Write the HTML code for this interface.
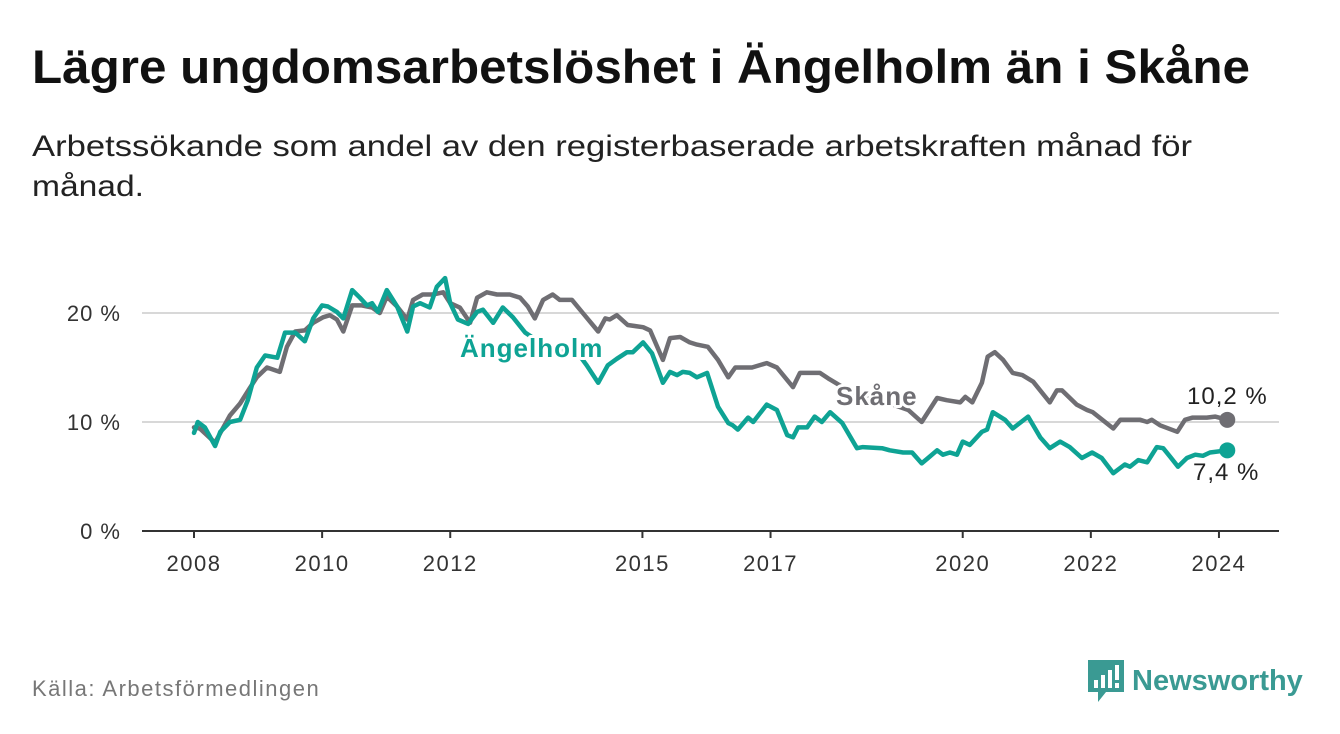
<!DOCTYPE html>
<html><head><meta charset="utf-8"><style>
body{margin:0;width:1340px;height:734px;background:#fff;font-family:"Liberation Sans",sans-serif;overflow:hidden}
.src{position:absolute;left:32px;top:676px;font-size:22px;letter-spacing:1.5px;color:#777}
.logo{position:absolute;left:1088px;top:660px;display:flex;align-items:center}
.logo span{font-size:29px;font-weight:bold;color:#3a9a93;margin-left:8px}
</style></head><body>
<svg id="chart" width="1340" height="734" style="position:absolute;left:0;top:0">
<text x="32" y="83" font-size="47" font-weight="bold" fill="#111" textLength="1218" lengthAdjust="spacingAndGlyphs">Lägre ungdomsarbetslöshet i Ängelholm än i Skåne</text>
<text x="32" y="156" font-size="30" fill="#222" textLength="1160" lengthAdjust="spacingAndGlyphs">Arbetssökande som andel av den registerbaserade arbetskraften månad för</text>
<text x="32" y="196" font-size="30" fill="#222" textLength="112" lengthAdjust="spacingAndGlyphs">månad.</text>
</svg>
<div class="src">Källa: Arbetsförmedlingen</div>
<div class="logo">
<svg width="36" height="42" viewBox="0 0 36 42"><path d="M0 0H36V32H18L10 42V32H0Z" fill="#3a9a93"/><rect x="6" y="20" width="4" height="8" fill="#fff"/><rect x="13" y="15" width="4" height="13" fill="#fff"/><rect x="20" y="10" width="4" height="18" fill="#fff"/><rect x="27" y="5" width="4" height="15" fill="#fff"/><rect x="27" y="23" width="4" height="5" fill="#fff"/></svg>
<span>Newsworthy</span></div>
<script>
const yTicks=[0,10,20];
const xTicks=[2008,2010,2012,2015,2017,2020,2022,2024];
const angYears=[2008.0,2008.06,2008.17,2008.33,2008.41,2008.56,2008.72,2008.84,2008.98,2009.11,2009.30,2009.42,2009.58,2009.73,2009.86,2010.00,2010.09,2010.23,2010.33,2010.47,2010.59,2010.70,2010.78,2010.87,2011.01,2011.17,2011.33,2011.42,2011.53,2011.68,2011.79,2011.92,2012.00,2012.12,2012.28,2012.42,2012.51,2012.67,2012.82,2012.98,2013.17,2013.48,2013.79,2014.03,2014.13,2014.31,2014.46,2014.60,2014.76,2014.85,2015.01,2015.15,2015.32,2015.43,2015.54,2015.63,2015.74,2015.85,2016.01,2016.18,2016.34,2016.41,2016.49,2016.65,2016.73,2016.94,2017.10,2017.26,2017.35,2017.43,2017.57,2017.69,2017.80,2017.93,2018.12,2018.35,2018.44,2018.74,2018.86,2019.07,2019.21,2019.36,2019.46,2019.60,2019.69,2019.80,2019.91,2020.00,2020.11,2020.30,2020.38,2020.47,2020.66,2020.78,2021.02,2021.21,2021.36,2021.52,2021.67,2021.86,2022.02,2022.17,2022.35,2022.53,2022.61,2022.74,2022.88,2023.03,2023.13,2023.24,2023.36,2023.50,2023.63,2023.75,2023.86,2024.13];
const angValues=[9.0,10.0,9.5,7.8,9.1,10.0,10.2,12,15,16.1,15.9,18.2,18.2,17.4,19.5,20.7,20.6,20.1,19.5,22.1,21.4,20.7,20.9,20.1,22.1,20.6,18.3,20.6,20.9,20.5,22.4,23.2,20.9,19.4,19.0,20.1,20.3,19.1,20.5,19.6,18.2,17.0,16.5,16.0,15.2,13.6,15.2,15.8,16.4,16.4,17.3,16.3,13.6,14.6,14.3,14.6,14.5,14.1,14.5,11.4,9.9,9.7,9.3,10.4,10.0,11.6,11.1,8.8,8.6,9.5,9.5,10.5,10.0,10.9,9.9,7.6,7.7,7.6,7.4,7.2,7.2,6.2,6.7,7.4,7.0,7.2,7.0,8.2,7.9,9.1,9.3,10.9,10.2,9.4,10.5,8.6,7.6,8.2,7.7,6.7,7.2,6.7,5.3,6.1,5.9,6.5,6.3,7.7,7.6,6.8,5.9,6.7,7.0,6.9,7.2,7.4];
const skYears=[2008.0,2008.09,2008.33,2008.41,2008.56,2008.72,2008.87,2008.98,2009.14,2009.34,2009.45,2009.58,2009.73,2009.86,2010.01,2010.12,2010.23,2010.33,2010.47,2010.62,2010.78,2010.90,2011.01,2011.17,2011.33,2011.42,2011.57,2011.73,2011.89,2012.00,2012.15,2012.31,2012.42,2012.57,2012.73,2012.93,2013.09,2013.21,2013.32,2013.45,2013.60,2013.71,2013.90,2014.07,2014.31,2014.42,2014.49,2014.60,2014.77,2015.01,2015.12,2015.32,2015.43,2015.59,2015.74,2015.85,2016.02,2016.18,2016.34,2016.45,2016.57,2016.71,2016.94,2017.10,2017.35,2017.46,2017.77,2017.90,2018.24,2018.71,2019.15,2019.36,2019.60,2019.75,2019.96,2020.04,2020.15,2020.30,2020.39,2020.50,2020.63,2020.78,2020.93,2021.10,2021.36,2021.47,2021.55,2021.78,2021.94,2022.03,2022.35,2022.46,2022.77,2022.88,2022.95,2023.08,2023.35,2023.47,2023.59,2023.81,2023.94,2024.13];
const skValues=[9.5,9.4,8.1,9.0,10.6,11.7,13.1,14.1,15.0,14.6,16.9,18.3,18.4,19.1,19.6,19.8,19.4,18.3,20.7,20.7,20.5,20.0,21.5,20.6,19.4,21.2,21.7,21.7,21.9,20.9,20.5,19.1,21.4,21.9,21.7,21.7,21.4,20.6,19.5,21.2,21.7,21.2,21.2,20.0,18.3,19.5,19.4,19.8,18.9,18.7,18.4,15.7,17.7,17.8,17.3,17.1,16.9,15.7,14.1,15.0,15.0,15.0,15.4,15.0,13.2,14.5,14.5,14.0,12.8,12.0,11.1,10.0,12.2,12.0,11.8,12.3,11.8,13.6,16.0,16.4,15.7,14.5,14.3,13.7,11.8,12.9,12.9,11.6,11.1,10.9,9.4,10.2,10.2,10.0,10.2,9.7,9.1,10.2,10.4,10.4,10.5,10.2];
const NS='http://www.w3.org/2000/svg';
const svg=document.getElementById('chart');
const X=y=>194+(y-2008)*64.06;
const Y=v=>531-v*10.9;
function mk(t,a){const e=document.createElementNS(NS,t);for(const k in a)e.setAttribute(k,a[k]);svg.appendChild(e);return e;}
yTicks.forEach(t=>{
 if(t>0){const g=mk('line',{x1:142,x2:1279,y1:Y(t),y2:Y(t),stroke:'#d8d8d8','stroke-width':2});
 
 }
 const l=mk('text',{x:121,y:Y(t)+8,'text-anchor':'end','font-size':22,fill:'#333','letter-spacing':1});l.textContent=t+' %';
 
 
});
const ax=mk('line',{x1:142,x2:1279,y1:531,y2:531,stroke:'#333','stroke-width':2});


xTicks.forEach(t=>{
 const tk=mk('line',{x1:X(t),x2:X(t),y1:531,y2:538,stroke:'#333','stroke-width':2});
 
 
 const l=mk('text',{x:X(t),y:571,'text-anchor':'middle','font-size':22,fill:'#333','letter-spacing':1.5});l.textContent=t;
 
 
});
function line(ys,vs,c,n){
 const d=ys.map((y,i)=>(i?'L':'M')+X(y).toFixed(1)+' '+Y(vs[i]).toFixed(1)).join(' ');
 const p=mk('path',{d:d,fill:'none',stroke:c,'stroke-width':4.5,'stroke-linejoin':'round','stroke-linecap':'round'});
 
 
 const i=ys.length-1;
 const dot=mk('circle',{cx:X(ys[i]),cy:Y(vs[i]),r:8,fill:c});
 
 
}
line(skYears,skValues,'#6f6e73','skane');
line(angYears,angValues,'#0ea394','angelholm');
function lab(x,y,s,c,w,sz,n){const t=mk('text',{x:x,y:y,'font-size':sz,'font-weight':w,fill:c,stroke:'#fff','stroke-width':6,'paint-order':'stroke','stroke-linejoin':'round','letter-spacing':1});t.textContent=s;
 
 }
lab(460,357,'Ängelholm','#0ea394','bold',26,'angelholm-label');
lab(836,405,'Skåne','#6f6e73','bold',26,'skane-label');
lab(1187,404,'10,2 %','#222','normal',24,'skane-end-value');
lab(1193,480,'7,4 %','#222','normal',24,'angelholm-end-value');
</script>
</body></html>
